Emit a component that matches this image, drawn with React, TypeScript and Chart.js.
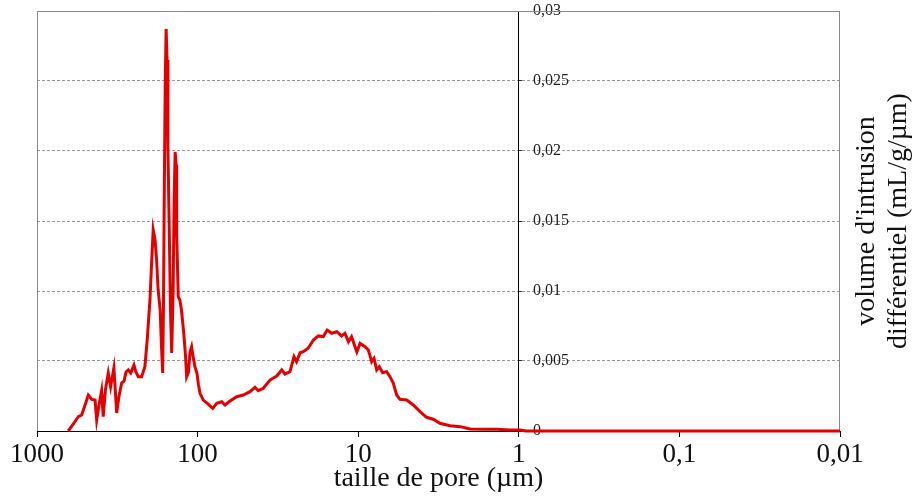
import React, { useEffect, useRef } from "react";
import { Chart, registerables } from "chart.js";

Chart.register(...registerables);

// pore size (µm)
const poreSize = [
  639, 594, 553, 527, 502, 479, 456, 435, 425, 411,
  396, 387, 375, 360, 348, 332, 319, 309, 297, 287,
  279, 270, 261, 249, 242, 234, 223, 213, 206, 198,
  193, 189, 184, 180, 176, 171, 168, 165, 163, 161,
  159, 157, 155, 153, 150, 147.5, 145, 142, 140, 138,
  136, 135, 132, 129, 126, 122, 119, 117, 114, 111.5,
  109, 107, 104, 101, 98.7, 96.6, 92.1, 87.4, 83.7, 80.5,
  76.0, 70.8, 67.5, 62.8, 57.1, 51.9, 47.2, 43.9, 41.9, 39.0,
  35.4, 32.2, 29.9, 28.6, 26.6, 25.1, 24.2, 23.0, 22.0, 20.5,
  19.0, 17.7, 16.5, 15.6, 14.6, 13.6, 12.7, 12.1, 11.5, 11.0,
  10.2, 9.74, 9.07, 8.65, 8.24, 7.97, 7.67, 7.39, 7.04, 6.65,
  6.34, 6.04, 5.76, 5.49, 4.99, 4.54, 4.12, 3.75, 3.41, 3.10,
  2.68, 2.32, 2.01, 1.66, 1.37, 1.13, 0.983, 0.9, 0.5, 0.1, 0.01,
];

// differential intrusion volume (mL/g/µm)
const diffVolume = [
  0, 0.0005, 0.00102, 0.00114, 0.00186, 0.00257, 0.00226, 0.00221, 0.00079, 0.00186,
  0.00288, 0.00102, 0.00293, 0.00414, 0.00316, 0.0045, 0.00129, 0.00245, 0.00343, 0.00357,
  0.00421, 0.00436, 0.00414, 0.00471, 0.00421, 0.00388, 0.00388, 0.00459, 0.0065, 0.00936,
  0.01221, 0.01436, 0.01364, 0.01221, 0.01007, 0.00864, 0.00614, 0.00414, 0.00936, 0.01793,
  0.02507, 0.02871, 0.0265, 0.02007, 0.01414, 0.00864, 0.00557, 0.01007, 0.0165, 0.01993,
  0.019, 0.01414, 0.00959, 0.00936, 0.00864, 0.007, 0.00543, 0.00388, 0.00421, 0.00564,
  0.00602, 0.00543, 0.00459, 0.00414, 0.00329, 0.00269, 0.00221, 0.002, 0.00179, 0.00162,
  0.00198, 0.00209, 0.00186, 0.00214, 0.00245, 0.00257, 0.00281, 0.00312, 0.00288, 0.00305,
  0.00364, 0.00393, 0.00436, 0.00407, 0.00424, 0.00531, 0.00495, 0.00559, 0.00566, 0.00591,
  0.0065, 0.00679, 0.00674, 0.00721, 0.00698, 0.00709, 0.00679, 0.00698, 0.00638, 0.00674,
  0.00566, 0.00626, 0.00602, 0.00579, 0.00495, 0.00519, 0.00436, 0.00459, 0.00416, 0.00424,
  0.00388, 0.00341, 0.00257, 0.00226, 0.00221, 0.00186, 0.00138, 0.00098, 0.00084, 0.00055,
  0.00038, 0.00031, 0.00014, 0.00012, 0.00012, 0.00007, 0.00007, 0, 0, 0, 0,
];

const xTickValues = [1000, 100, 10, 1, 0.1, 0.01];
const yTickValues = [0, 0.005, 0.01, 0.015, 0.02, 0.025, 0.03];
const yAxisCrossing = 1;
const xTitle = "taille de pore (µm)";
const yTitleLines = ["volume d'intrusion", "différentiel (mL/g/µm)"];

const SERIF = '"Liberation Serif", "Times New Roman", serif';
const fmt = (v: number) => Number(v.toPrecision(6)).toString().replace(".", ",");

const framePlugin = {
  id: "frame",
  beforeDatasetsDraw(chart: any) {
    const { ctx, chartArea: a } = chart;
    const l = Math.round(a.left) + 0.5;
    const r = Math.round(a.right) - 0.5;
    const t = Math.round(a.top) + 0.5;
    const b = Math.round(a.bottom);
    ctx.save();
    ctx.strokeStyle = "#8a8a8a";
    ctx.lineWidth = 1;
    ctx.beginPath();
    ctx.moveTo(l, b);
    ctx.lineTo(l, t);
    ctx.lineTo(r, t);
    ctx.lineTo(r, b);
    ctx.stroke();
    ctx.restore();
  },
};

const yTitlePlugin = {
  id: "yTitleRight",
  afterDraw(chart: any) {
    const { ctx, chartArea: a } = chart;
    const cy = (a.top + a.bottom) / 2;
    ctx.save();
    ctx.fillStyle = "#111";
    ctx.font = `28px ${SERIF}`;
    ctx.textAlign = "center";
    ctx.textBaseline = "middle";
    yTitleLines.forEach((line, i) => {
      ctx.save();
      ctx.translate(a.right + 27 + i * 32, cy);
      ctx.rotate(-Math.PI / 2);
      ctx.fillText(line, 0, 0);
      ctx.restore();
    });
    ctx.restore();
  },
};

export default function App() {
  const ref = useRef<HTMLCanvasElement | null>(null);

  useEffect(() => {
    if (!ref.current) return;
    const chart = new Chart(ref.current, {
      type: "line",
      data: {
        datasets: [
          {
            data: poreSize.map((d, i) => ({ x: d, y: diffVolume[i] })),
            borderColor: "rgb(228,0,0)",
            borderWidth: 3,
            pointRadius: 0,
            tension: 0,
            fill: false,
            clip: 4,
            xAxisID: "x",
            yAxisID: "y",
          },
        ],
      },
      plugins: [framePlugin, yTitlePlugin],
      options: {
        animation: false,
        responsive: true,
        maintainAspectRatio: false,
        layout: { padding: { left: 37, top: 11, right: 74, bottom: 0 } },
        plugins: { legend: { display: false }, tooltip: { enabled: false } },
        scales: {
          x: {
            type: "logarithmic",
            position: "bottom",
            reverse: true,
            min: 0.01,
            max: 1000,
            afterBuildTicks: (s: any) => {
              s.ticks = xTickValues.map((v) => ({ value: v }));
            },
            afterFit: (s: any) => {
              s.height = 72;
            },
            grid: {
              drawOnChartArea: false,
              drawTicks: true,
              tickLength: 6,
              tickColor: "#000",
              color: "#000",
            },
            border: { display: true, color: "#000", width: 1 },
            ticks: {
              autoSkip: false,
              maxRotation: 0,
              padding: 2,
              color: "#111",
              font: { family: SERIF, size: 27 },
              callback: (v: any) => fmt(Number(v)),
            },
            title: {
              display: true,
              text: xTitle,
              color: "#111",
              font: { family: SERIF, size: 28 },
              padding: { top: 0, bottom: 8 },
            },
          } as any,
          y: {
            type: "linear",
            position: { x: yAxisCrossing },
            min: 0,
            max: 0.03,
            afterBuildTicks: (s: any) => {
              s.ticks = yTickValues.map((v) => ({ value: v }));
            },
            afterFit: (s: any) => {
              s.width = 0;
              s.paddingTop = 0;
              s.paddingBottom = 0;
            },
            ticks: { display: false },
            grid: {
              color: (c: any) => (c.tick && c.tick.value === 0 ? "rgba(0,0,0,0)" : "#9a9a9a"),
              lineWidth: 1,
              drawTicks: true,
              tickLength: -4,
              tickColor: "#333",
              tickBorderDash: [],
            },
            border: { display: true, color: "#000", width: 1, dash: [3, 2] },
          } as any,
          yl: {
            type: "linear",
            position: "left",
            display: true,
            min: 0,
            max: 0.03,
            afterBuildTicks: (s: any) => {
              s.ticks = yTickValues.map((v) => ({ value: v }));
            },
            afterFit: (s: any) => {
              s.width = 0;
              s.paddingTop = 0;
              s.paddingBottom = 0;
            },
            grid: { display: false, drawTicks: false },
            border: { display: false },
            ticks: {
              mirror: true,
              padding: 496,
              color: "#222",
              font: { family: SERIF, size: 16 },
              callback: (v: any) => fmt(Number(v)),
            },
          } as any,
        },
      },
    });
    return () => chart.destroy();
  }, []);

  return (
    <div style={{ position: "fixed", left: 0, top: 0, width: 914, height: 503, background: "#fff" }}>
      <canvas ref={ref} />
    </div>
  );
}
